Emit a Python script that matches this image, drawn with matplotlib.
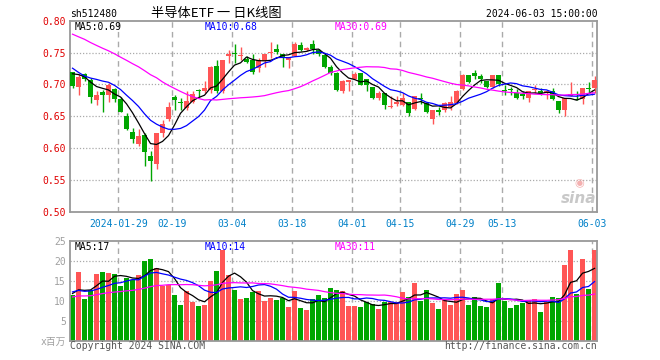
import numpy as np
import pandas as pd
import matplotlib
matplotlib.use("Agg")
import matplotlib.pyplot as plt

# closes / volumes before the first visible candle, only used to feed the moving averages
prior_close = [0.835, 0.828, 0.832, 0.820, 0.815, 0.822, 0.818, 0.814,
               0.780, 0.772, 0.766, 0.775, 0.770, 0.767,
               0.835, 0.828, 0.820, 0.812, 0.805, 0.797,
               0.778, 0.766,
               0.712, 0.705, 0.710, 0.718, 0.726, 0.722, 0.719]
prior_vol = [9.5, 10.8, 11.2, 9.0, 8.6, 10.4, 12.1, 9.8, 10.5, 11.6,
             9.2, 10.9, 8.8, 10.2, 11.5, 9.7, 10.6, 9.9, 11.0, 10.8,
             13.5, 12.8, 11.9, 13.0, 11.8, 12.6, 11.2, 12.3, 11.5]

# daily candles, 2024-01-17 .. 2024-06-03
open_ = [0.719, 0.696, 0.716, 0.707, 0.676, 0.688, 0.683, 0.693, 0.677, 0.650,
         0.625, 0.606, 0.620, 0.588, 0.575, 0.624, 0.646, 0.680, 0.672, 0.663,
         0.673, 0.691, 0.689, 0.691, 0.729, 0.689, 0.745, 0.750, 0.745, 0.740,
         0.738, 0.725, 0.737, 0.749, 0.756, 0.747, 0.739, 0.744, 0.762, 0.754,
         0.763, 0.754, 0.746, 0.728, 0.718, 0.690, 0.704, 0.709, 0.718, 0.708,
         0.696, 0.678, 0.686, 0.665, 0.669, 0.668, 0.672, 0.661, 0.678, 0.670,
         0.645, 0.660, 0.659, 0.664, 0.670, 0.692, 0.715, 0.718, 0.713, 0.706,
         0.696, 0.715, 0.691, 0.692, 0.686, 0.685, 0.679, 0.691, 0.690, 0.686,
         0.690, 0.674, 0.660, 0.681, 0.677, 0.677, 0.694, 0.695]
high = [0.720, 0.717, 0.718, 0.710, 0.690, 0.691, 0.702, 0.695, 0.680, 0.655,
        0.631, 0.630, 0.623, 0.595, 0.623, 0.644, 0.673, 0.684, 0.678, 0.689,
        0.689, 0.692, 0.706, 0.729, 0.738, 0.738, 0.754, 0.764, 0.759, 0.745,
        0.748, 0.742, 0.747, 0.766, 0.764, 0.748, 0.743, 0.767, 0.766, 0.759,
        0.769, 0.756, 0.748, 0.730, 0.720, 0.707, 0.707, 0.719, 0.718, 0.708,
        0.696, 0.689, 0.687, 0.681, 0.681, 0.686, 0.673, 0.682, 0.687, 0.673,
        0.659, 0.664, 0.673, 0.681, 0.691, 0.716, 0.715, 0.722, 0.716, 0.706,
        0.715, 0.715, 0.699, 0.696, 0.692, 0.689, 0.690, 0.699, 0.695, 0.690,
        0.694, 0.674, 0.678, 0.704, 0.689, 0.695, 0.703, 0.713]
low = [0.695, 0.684, 0.706, 0.671, 0.668, 0.657, 0.673, 0.673, 0.656, 0.628,
       0.608, 0.603, 0.572, 0.548, 0.567, 0.617, 0.642, 0.659, 0.660, 0.660,
       0.670, 0.680, 0.686, 0.687, 0.686, 0.686, 0.733, 0.733, 0.739, 0.733,
       0.717, 0.719, 0.728, 0.742, 0.748, 0.727, 0.725, 0.744, 0.753, 0.752,
       0.748, 0.745, 0.725, 0.715, 0.690, 0.687, 0.689, 0.709, 0.699, 0.690,
       0.677, 0.676, 0.662, 0.663, 0.666, 0.666, 0.651, 0.660, 0.669, 0.655,
       0.638, 0.652, 0.656, 0.660, 0.669, 0.691, 0.702, 0.709, 0.702, 0.695,
       0.695, 0.697, 0.683, 0.683, 0.677, 0.677, 0.673, 0.686, 0.683, 0.677,
       0.676, 0.655, 0.650, 0.681, 0.675, 0.669, 0.688, 0.686]
close = [0.698, 0.712, 0.709, 0.680, 0.684, 0.684, 0.699, 0.677, 0.657, 0.630,
         0.614, 0.619, 0.593, 0.579, 0.623, 0.638, 0.665, 0.676, 0.671, 0.674,
         0.685, 0.690, 0.695, 0.728, 0.689, 0.738, 0.748, 0.748, 0.746, 0.735,
         0.719, 0.738, 0.747, 0.750, 0.751, 0.741, 0.743, 0.764, 0.754, 0.757,
         0.755, 0.747, 0.728, 0.718, 0.691, 0.706, 0.707, 0.716, 0.699, 0.699,
         0.678, 0.687, 0.667, 0.666, 0.673, 0.678, 0.655, 0.682, 0.677, 0.656,
         0.659, 0.657, 0.670, 0.673, 0.690, 0.715, 0.704, 0.713, 0.708, 0.696,
         0.714, 0.701, 0.690, 0.691, 0.679, 0.681, 0.690, 0.692, 0.686, 0.689,
         0.677, 0.660, 0.678, 0.685, 0.676, 0.695, 0.693, 0.707]
volume = [11.4, 17.25, 10.5, 12.8, 16.75, 17.25, 17.0, 16.75, 13.7, 15.75,
          15.2, 16.4, 20.0, 20.4, 18.2, 13.75, 14.0, 11.4, 8.9, 12.4,
          9.7, 8.75, 8.9, 15.0, 17.5, 22.75, 16.5, 12.75, 10.4, 10.75,
          12.25, 12.5, 9.9, 10.75, 10.25, 10.6, 8.5, 12.4, 8.25, 7.7,
          10.5, 11.5, 10.75, 13.2, 12.8, 12.4, 8.7, 8.7, 8.4, 9.8,
          9.2, 7.9, 9.75, 9.8, 9.8, 12.2, 10.9, 14.4, 9.9, 12.7,
          9.5, 7.9, 10.1, 8.9, 11.7, 12.75, 8.9, 10.9, 8.7, 8.4,
          10.5, 14.4, 9.9, 8.2, 8.9, 9.4, 10.2, 10.5, 7.2, 9.7,
          10.9, 10.7, 18.9, 22.7, 11.7, 20.4, 12.9, 22.7]

tick_idx = [8, 17, 27, 37, 47, 55, 65, 72, 87]
tick_labels = ['2024-01-29', '02-19', '03-04', '03-18', '04-01',
               '04-15', '04-29', '05-13', '06-03']
price_ticks = [0.50, 0.55, 0.60, 0.65, 0.70, 0.75, 0.80]
vol_ticks = [0, 5, 10, 15, 20, 25]
price_ma_text = ['MA5:0.69', 'MA10:0.68', 'MA30:0.69']
vol_ma_text = ['MA5:17', 'MA10:14', 'MA30:11']

RED = '#ff5555'
GREEN = '#00a600'
MA_COLORS = ['black', '#0000ff', '#ff00ff']
GRIDC = '#aaaaaa'
FRAME = '#999999'
MONO = 'DejaVu Sans Mono'
CJK = ['Noto Sans CJK SC', 'DejaVu Sans']

df = pd.DataFrame({'open': open_, 'high': high, 'low': low,
                   'close': close, 'volume': volume})
n = len(df)
x = np.arange(n)
up = (df['close'] >= df['open']).values
colors = np.where(up, RED, GREEN)

all_close = pd.Series(prior_close + close)
all_vol = pd.Series(prior_vol + volume)
npre = len(prior_close)
price_ma = [all_close.rolling(w).mean().values[npre:] for w in (5, 10, 30)]
vol_ma = [all_vol.rolling(w).mean().values[npre:] for w in (5, 10, 30)]

W, H = 660, 360
fig = plt.figure(figsize=(W / 100, H / 100), dpi=100)
fig.patch.set_facecolor('white')
ax1 = fig.add_axes([70 / W, 1 - 211.7 / H, 527.3 / W, 191 / H])
ax2 = fig.add_axes([70 / W, 1 - 340.7 / H, 527.3 / W, 100 / H])

grid_x = [i - 0.37 for i in tick_idx]
for ax in (ax1, ax2):
    ax.set_xlim(-0.42, 87.46)
    for s in ax.spines.values():
        s.set_color(FRAME)
        s.set_linewidth(1.3)
    for gx in grid_x:
        ax.axvline(gx, color=GRIDC, lw=1.0, ls=(0, (4, 3)), zorder=0)

# candles
ax1.vlines(x, df['low'], df['high'], colors=colors, lw=1.0, zorder=2)
body = np.maximum((df['close'] - df['open']).abs().values, 0.0012)
ax1.bar(x, body, bottom=np.minimum(df['open'], df['close']), width=0.8,
        color=colors, linewidth=0, zorder=3)
for ma, c in zip(price_ma, MA_COLORS):
    ax1.plot(x, ma, color=c, lw=0.9, zorder=4)
ax1.set_ylim(0.5, 0.8)
for p in price_ticks[1:-1]:
    ax1.axhline(p, color=GRIDC, lw=0.9, ls=(0, (1, 1.5)), zorder=0)
ax1.set_yticks(price_ticks)
ax1.set_yticklabels(['%.2f' % p for p in price_ticks], color='#e00000',
                    fontsize=7, family=MONO)
ax1.set_xticks(grid_x)
ax1.set_xticklabels(tick_labels, color='#0080c8', fontsize=7, family=MONO)
ax1.tick_params(length=0, pad=3)
ax1.tick_params(axis='x', pad=5)

# volume
ax2.bar(x, df['volume'], width=0.8, color=colors, linewidth=0, zorder=2)
for ma, c in zip(vol_ma, MA_COLORS):
    ax2.plot(x, ma, color=c, lw=0.9, zorder=4)
ax2.set_ylim(0, 25)
for v in vol_ticks[1:-1]:
    ax2.axhline(v, color=GRIDC, lw=0.9, ls=(0, (1, 1.5)), zorder=0)
ax2.set_yticks(vol_ticks)
ax2.set_yticklabels(['x百万'] + [str(v) for v in vol_ticks[1:]], color='#a0a0a0',
                    fontsize=7, family=[MONO, 'Noto Sans CJK SC'])
ax2.set_xticks([])
ax2.tick_params(length=0, pad=3)

# moving average legends
for xs, t, c in zip((75, 205, 335), price_ma_text, MA_COLORS):
    fig.text(xs / W, 1 - 29.5 / H, t, color=c, fontsize=7, family=MONO, va='baseline')
for xs, t, c in zip((75, 205, 335), vol_ma_text, MA_COLORS):
    fig.text(xs / W, 1 - 250 / H, t, color=c, fontsize=7, family=MONO, va='baseline')

# headers and footers
fig.text(70 / W, 1 - 17 / H, 'sh512480', fontsize=7, family=MONO, va='baseline')
fig.text(216 / W, 1 - 17 / H, '半导体ETF 一 日K线图', fontsize=9.5, family=CJK,
         ha='center', va='baseline')
fig.text(597.3 / W, 1 - 17 / H, '2024-06-03 15:00:00', fontsize=7, family=MONO,
         ha='right', va='baseline')
fig.text(70 / W, 1 - 349 / H, 'Copyright 2024 SINA.COM', fontsize=7, family=MONO,
         color='#555555', va='baseline')
fig.text(597.3 / W, 1 - 349 / H, 'http://finance.sina.com.cn', fontsize=7, family=MONO,
         color='#555555', ha='right', va='baseline')

# sina watermark
ax1.text(0.998, 0.03, 'sina', transform=ax1.transAxes, ha='right', va='bottom',
         fontsize=11, fontweight='bold', style='italic', color='#c8c8c8')
ax1.text(0.965, 0.15, '◉', transform=ax1.transAxes, ha='center', va='center',
         fontsize=8, color='#f4b0b0', family='DejaVu Sans')

fig.savefig('out.png', dpi=100)
